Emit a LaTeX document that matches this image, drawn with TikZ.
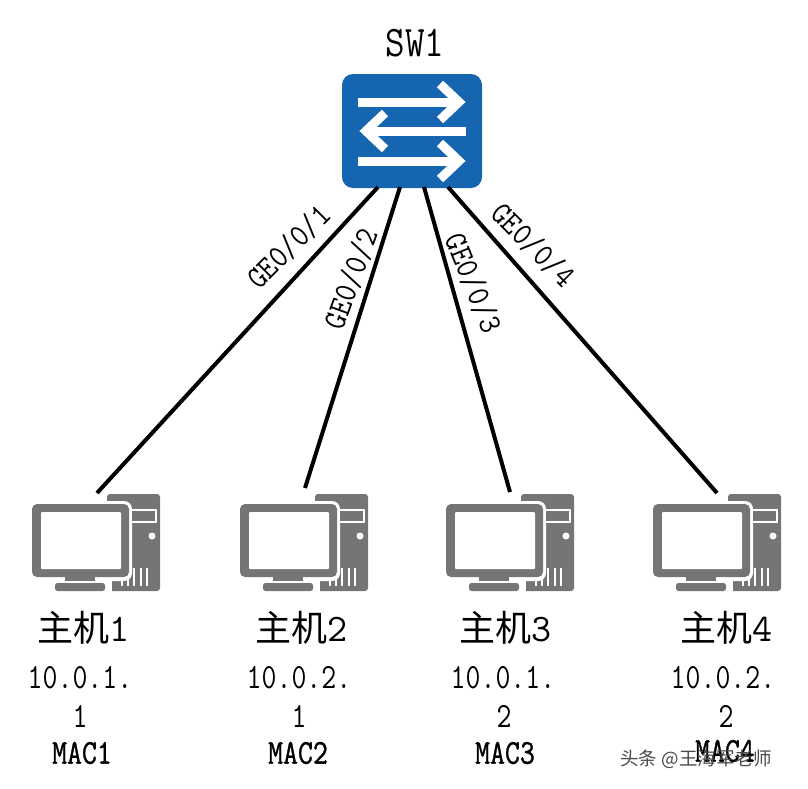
\documentclass[tikz,border=0pt]{standalone}
\usepackage{fontspec}
\setmonofont{Latin Modern Mono}
\newfontfamily\cjk{Noto Sans CJK SC}
\newfontfamily\macfont{Latin Modern Mono}[FakeBold=1.1]
\usetikzlibrary{calc}
\definecolor{swblue}{HTML}{1565B0}
\definecolor{pcgray}{HTML}{767474}
\definecolor{wmgray}{HTML}{4A4A4A}
\tikzset{
  x=1pt,y=-1pt,
  swbox/.style={fill=swblue,draw=none,rounded corners=11pt,minimum width=140pt,minimum height=114pt,inner sep=0pt},
  swarrow/.style={white,line width=9pt,line join=miter},
  link/.style={black,line width=4pt},
  portlabel/.style={inner sep=0pt,font=\ttfamily\fontsize{29}{29}\selectfont,yscale=1.12},
  hostname/.style={inner sep=0pt,font=\fontsize{36}{36}\selectfont},
  addr/.style={inner sep=0pt,font=\ttfamily\fontsize{29}{29}\selectfont,yscale=1.22},
  maclabel/.style={inner sep=0pt,font=\macfont\fontsize{29}{29}\selectfont,yscale=1.2},
  wm/.style={inner sep=0pt,text=wmgray,font=\cjk\fontsize{18.5}{18.5}\selectfont},
  hostpc/.pic={
    \fill[pcgray,rounded corners=3pt] (107,494) rectangle (160,591);
    \fill[white,rounded corners=8pt] (29,501) rectangle (132,581);
    \fill[white] (53,581) rectangle (112,594);
    \fill[pcgray,rounded corners=5pt] (32,504) rectangle (129,577);
    \fill[white,rounded corners=1pt] (41,512) rectangle (121,569);
    \fill[pcgray] (65,576) rectangle (95,581);
    \fill[pcgray,rounded corners=2.5pt] (55,583) rectangle (105,591);
    \fill[white] (130,509) rectangle (157,523);
    \fill[pcgray] (132,511) rectangle (155,521);
    \fill[white] (152,536) circle (3.5);
    \foreach \vx in {133,139.5,146} {\fill[white] (\vx,568) rectangle ++(2.4,18);}
    \foreach \vx in {121,127} {\fill[white] (\vx,579) rectangle ++(2.4,7);}
  }
}
\begin{document}
\begin{tikzpicture}
\path[use as bounding box,fill=white] (0,0) rectangle (808,788);
% switch
\node[swbox] (sw) at (412,131) {};
\node[inner sep=0pt,yscale=1.15,font=\ttfamily\fontsize{38}{38}\selectfont] (swname) at (415,43) {SW1};
\draw[swarrow] (358,102) -- (458,102);
\draw[swarrow] (440,84) -- (459,102) -- (440,120);
\draw[swarrow] (367,131) -- (466,131);
\draw[swarrow] (385,113) -- (366,131) -- (385,149);
\draw[swarrow] (358,161) -- (458,161);
\draw[swarrow] (440,143) -- (459,161) -- (440,179);
% hosts
\pic at (0,0) {hostpc};
\pic at (208,0) {hostpc};
\pic at (414,0) {hostpc};
\pic at (621,0) {hostpc};
% connector ends
\coordinate (s1) at (378,187);
\coordinate (s2) at (400,187);
\coordinate (s3) at (424,187);
\coordinate (s4) at (448,187);
\coordinate (h1) at (97,493);
\coordinate (h2) at (305,488);
\coordinate (h3) at (510,492);
\coordinate (h4) at (717,493);
\draw[link] (s1) -- (h1);
\draw[link] (s2) -- (h2);
\draw[link] (s3) -- (h3);
\draw[link] (s4) -- (h4);
% port labels
\node[rotate=45,portlabel] (g1) at (289,247) {GE0/0/1};
\node[rotate=70,portlabel] (g2) at (351,279) {GE0/0/2};
\node[rotate=-68,portlabel] (g3) at (473,283) {GE0/0/3};
\node[rotate=-45,portlabel] (g4) at (533,245) {GE0/0/4};
% host labels
\node[hostname] (n1) at (84,628) {\cjk 主机\ttfamily\fontsize{39}{39}\selectfont 1};
\node[hostname] (n2) at (302,628) {\cjk 主机\ttfamily\fontsize{39}{39}\selectfont 2};
\node[hostname] (n3) at (506,628) {\cjk 主机\ttfamily\fontsize{39}{39}\selectfont 3};
\node[hostname] (n4) at (727,628) {\cjk 主机\ttfamily\fontsize{39}{39}\selectfont 4};
\node[addr] (a1) at (80,678) {10.0.1.};
\node[addr] (a2) at (299,678) {10.0.2.};
\node[addr] (a3) at (503,678) {10.0.1.};
\node[addr] (a4) at (723,678) {10.0.2.};
\node[addr] (b1) at (80,716) {1};
\node[addr] (b2) at (299,716) {1};
\node[addr] (b3) at (504,716) {2};
\node[addr] (b4) at (726,716) {2};
\node[maclabel] (m1) at (82,753) {MAC1};
\node[maclabel] (m2) at (298,753) {MAC2};
\node[maclabel] (m3) at (505,753) {MAC3};
\node[maclabel] (m4) at (725,751) {MAC4};
% watermark
\node[wm] (wm) at (696,759) {头条 @王海军老师};
\end{tikzpicture}
\end{document}
